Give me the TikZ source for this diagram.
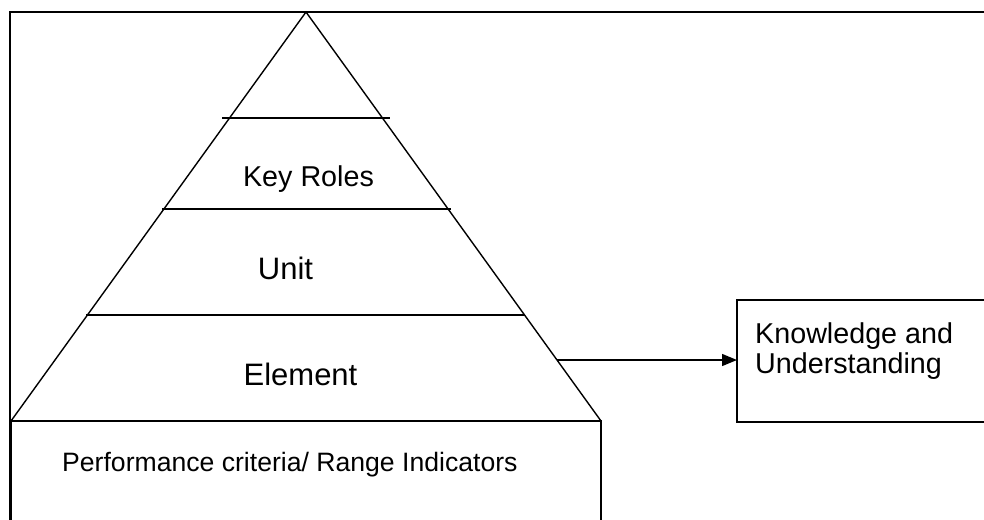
\documentclass[tikz,border=0pt]{standalone}
\usepackage{fontspec}
\setmainfont{Liberation Sans}
\usetikzlibrary{arrows.meta}

\begin{document}
\begin{tikzpicture}[x=1pt,y=-1pt,
thinline/.style={black, line width=1.4pt},
frameline/.style={black, line width=2.2pt},
layertext/.style={inner sep=0pt, anchor=base},
knowbox/.style={draw=black, line width=1.4pt, outer sep=0pt, anchor=north west, minimum width=320pt, minimum height=122pt}
]
\clip (0,0) rectangle (984,519);

%Points
\coordinate (apex) at (306,12);
\coordinate (baseleft) at (11,421);
\coordinate (baseright) at (601,421);
\coordinate (elemedge) at (557,360);

%Nodes
\node[layertext, font=\fontsize{28.7}{30}\selectfont] (keyroles) at (308.5,186) {Key Roles};
\node[layertext, font=\fontsize{31}{33}\selectfont] (unit) at (285.5,279) {Unit};
\node[layertext, font=\fontsize{31}{33}\selectfont] (element) at (300.5,385) {Element};
\node[layertext, anchor=base west, font=\fontsize{26.6}{28}\selectfont] (perf) at (62,471) {Performance criteria/ Range Indicators};
\node[knowbox] (know) at (737,300) {};
\node[inner sep=0pt, anchor=north west, align=left, font=\fontsize{28.7}{30}\selectfont] (knowtext) at (755,322.5) {Knowledge and\\Understanding};

%Lines
\draw[frameline] (10,12) rectangle (1010,540);
\draw[thinline] (baseleft) -- (apex) -- (baseright);
\draw[thinline] (222,118) -- (390,118);
\draw[thinline] (162,209) -- (451,209);
\draw[thinline] (86,315) -- (525,315);
\draw[thinline] (baseleft) rectangle (601,540);
\draw[thinline, -{Triangle[length=15pt,width=12pt]}] (elemedge) -- (elemedge -| know.west);

\end{tikzpicture}
\end{document}
